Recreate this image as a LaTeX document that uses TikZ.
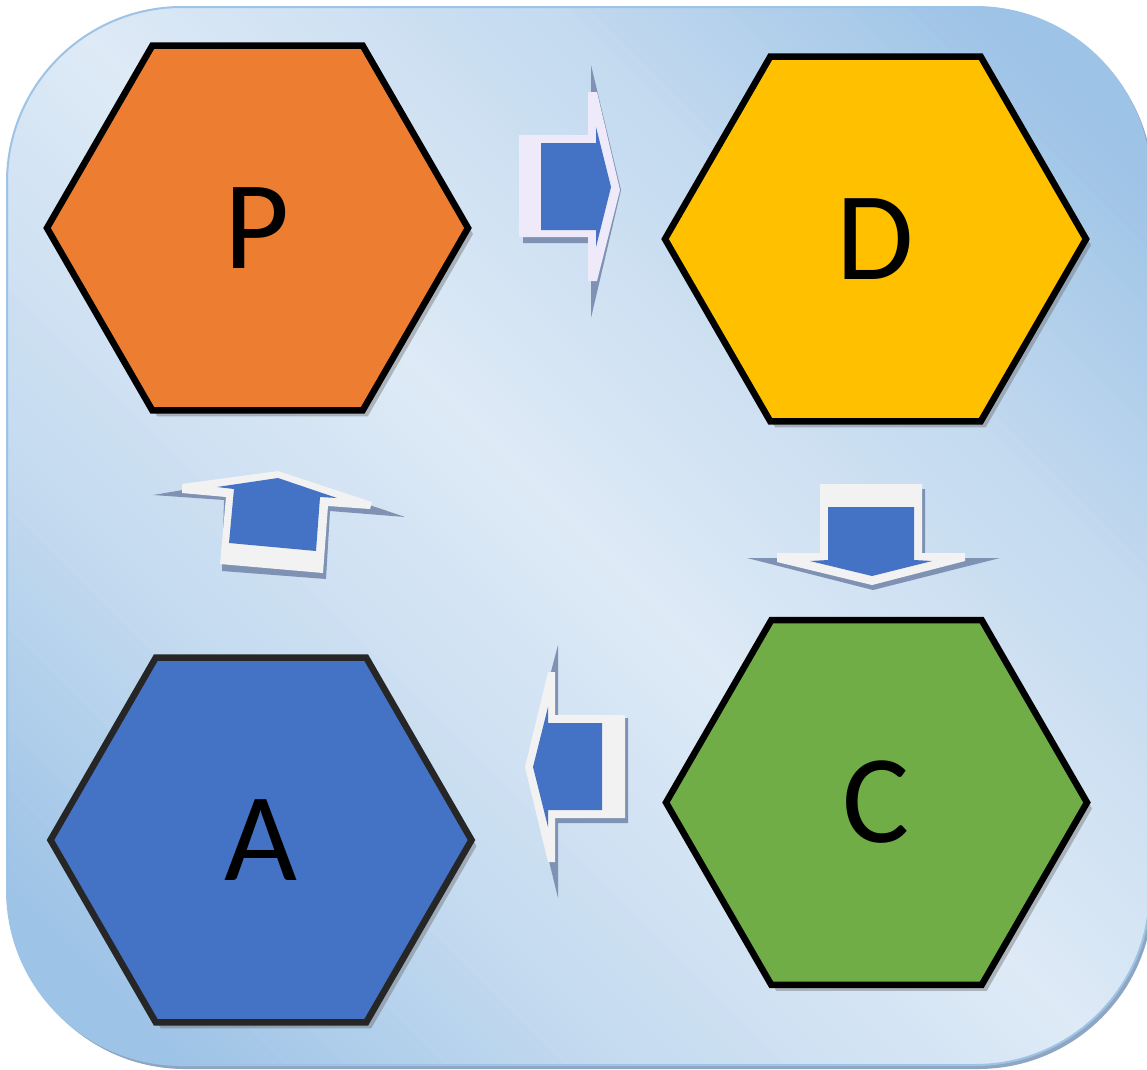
\documentclass[tikz,border=0pt]{standalone}
\usepackage{fontspec}
\setmainfont{Carlito}
\usetikzlibrary{shapes.geometric,shadows}
\definecolor{bgLight}{HTML}{DEEAF6}
\definecolor{bgDark}{HTML}{9DC3E6}
\definecolor{bgShadowCol}{HTML}{8FA6C2}
\definecolor{pOrange}{HTML}{ED7D31}
\definecolor{dYellow}{HTML}{FFC000}
\definecolor{aBlue}{HTML}{4472C4}
\definecolor{cGreen}{HTML}{70AD47}
\definecolor{arrWhiteCol}{HTML}{F2F2F2}
\definecolor{arrLavCol}{HTML}{EEEAF9}
\definecolor{arrShadowCol}{HTML}{7F92B3}
\begin{document}
\begin{tikzpicture}[x=1pt,y=-1pt,
  hexa/.style={regular polygon, regular polygon sides=6, minimum size=421pt,
    inner sep=0pt, line width=6.5pt, line join=miter,
    font=\fontsize{126}{126}\selectfont,
    drop shadow={shadow xshift=5pt, shadow yshift=-6pt, fill=black!60, opacity=0.4}},
  arrshadow/.style={fill=arrShadowCol},
  arrwhite/.style={fill=arrWhiteCol},
  arrblue/.style={fill=aBlue}]
\useasboundingbox (0,0) rectangle (1147,1069);
\clip (0,0) rectangle (1147,1069);
\fill[white] (0,0) rectangle (1147,1069);
% background panel shadow
\fill[bgShadowCol, rounded corners=175pt] (10,10) rectangle (1153,1069);
% background panel gradient (bands along the diagonal)
\begin{scope}
\clip[rounded corners=175pt] (7,7) rectangle (1150,1065);
\foreach \c in {-1100,-1080,...,1200}{
  \pgfmathsetmacro\f{abs(\c+10-42)/1100}
  \pgfmathsetmacro\p{\f<0.45 ? 90*\f : min(100,40.5+149*(\f-0.45))}
  \fill[bgDark!\p!bgLight] (\c-100,-100) -- (\c-78,-100) -- (\c+1222,1200) -- (\c+1200,1200) -- cycle;
}
\end{scope}
\draw[bgDark, line width=2pt, rounded corners=175pt] (7,7) rectangle (1150,1065);
% hexagons
\node[hexa, fill=pOrange, draw=black] (P) at (257.5,228) {P};
\node[hexa, fill=dYellow, draw=black] (D) at (875.5,239) {D};
\node[hexa, fill=aBlue, draw=black!85] (A) at (261,840) {A};
\node[hexa, fill=cGreen, draw=black] (C) at (876.5,802.5) {C};
% arrow P -> D
\fill[arrshadow] (523,140) -- (591,140) -- (591,65) -- (621,190) -- (591,318) -- (591,243) -- (523,243) -- cycle;
\fill[arrwhite, fill=arrLavCol] (519,135) -- (588,135) -- (588,92) -- (597,92) -- (620,190) -- (597,281) -- (588,281) -- (588,237) -- (519,237) -- cycle;
\fill[arrblue] (541,143) -- (596,143) -- (596,127) -- (611,187) -- (596,247) -- (596,230) -- (541,230) -- cycle;
% arrow D -> C
\fill[arrshadow] (822,489) -- (925,489) -- (925,558) -- (1000,558) -- (873,590) -- (747,558) -- (822,558) -- cycle;
\fill[arrwhite] (820,484) -- (922,484) -- (922,553) -- (965,553) -- (965,561) -- (872,585) -- (777,562) -- (777,553) -- (820,553) -- cycle;
\fill[arrblue] (828,507) -- (914,507) -- (914,560) -- (932,561) -- (872,576) -- (810,561) -- (828,560) -- cycle;
% arrow C -> A
\fill[arrshadow] (558,645) -- (558,718) -- (628,718) -- (628,823) -- (558,823) -- (558,898) -- (526,767) -- cycle;
\fill[arrwhite] (555,672) -- (548,672) -- (525,767) -- (548,862) -- (555,862) -- (555,818) -- (625,818) -- (625,715) -- (555,715) -- cycle;
\fill[arrblue] (548,707) -- (533,767) -- (548,827) -- (548,810) -- (602,810) -- (602,723) -- (548,723) -- cycle;
% arrow A -> P
\fill[arrshadow] (153,495) -- (278,474) -- (405,517) -- (330,511) -- (326,579) -- (222,571) -- (224,500) -- cycle;
\fill[arrwhite] (182,484) -- (278,471) -- (372,502) -- (370,509) -- (328,506) -- (323,573) -- (220,564) -- (226,497) -- (182,493) -- cycle;
\fill[arrblue] (217,487) -- (278,478) -- (337,498) -- (320,497) -- (316,551) -- (229,543) -- (234,489) -- cycle;
\end{tikzpicture}
\end{document}
